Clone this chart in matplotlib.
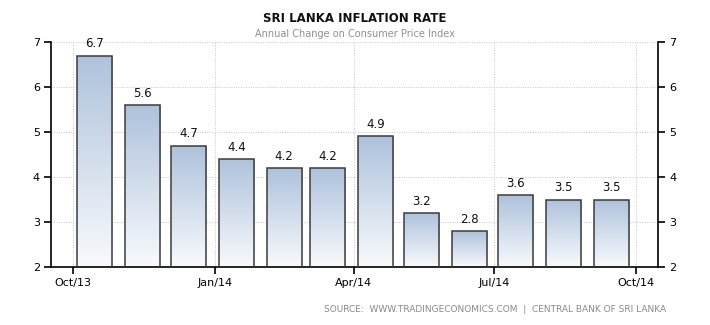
import numpy as np
import pandas as pd
import matplotlib
matplotlib.use("Agg")
import matplotlib.pyplot as plt
import matplotlib.dates as mdates
from matplotlib.colors import LinearSegmentedColormap

# Monthly inflation readings, Oct 2013 .. Sep 2014
months = ["2013-10", "2013-11", "2013-12", "2014-01", "2014-02", "2014-03",
          "2014-04", "2014-05", "2014-06", "2014-07", "2014-08", "2014-09"]
values = [6.7, 5.6, 4.7, 4.4, 4.2, 4.2, 4.9, 3.2, 2.8, 3.6, 3.5, 3.5]
tick_dates = ["2013-10-01", "2014-01-01", "2014-04-01", "2014-07-01", "2014-10-01"]
tick_labels = ["Oct/13", "Jan/14", "Apr/14", "Jul/14", "Oct/14"]

plt.rcParams["font.family"] = ["DejaVu Sans"]

fig = plt.figure(figsize=(7.1, 3.25), dpi=100)
ax = fig.add_axes([51 / 710, 1 - 267 / 325, (658 - 51) / 710, (267 - 42) / 325])

starts = pd.to_datetime(months)
left_edges = mdates.date2num(starts + pd.Timedelta(days=2.6))
width = 22.7

grad = LinearSegmentedColormap.from_list("bar", ["#f8fafd", "#aec2dc"])
gimg = np.linspace(0, 1, 256).reshape(-1, 1)

bars = ax.bar(left_edges, values, width=width, bottom=0, align="edge",
              facecolor="none", edgecolor="#3c3c3c", linewidth=1.1, zorder=3)
for b, v in zip(bars, values):
    x0 = b.get_x()
    im = ax.imshow(gimg, cmap=grad, aspect="auto", origin="lower",
                   extent=[x0, x0 + width, 2, v], zorder=2, interpolation="bilinear")
    im.set_clip_path(b)
    ax.text(x0 + width / 2, v + 0.12, f"{v:.1f}", ha="center", va="bottom",
            fontsize=8.5, color="#111111", zorder=4)

x_min = mdates.date2num(pd.Timestamp("2013-09-17"))
x_max = mdates.date2num(pd.Timestamp("2014-10-15"))
ax.set_xlim(x_min, x_max)
ax.set_ylim(2, 7)

ticks = mdates.date2num(pd.to_datetime(tick_dates))
ax.set_xticks(ticks)
ax.set_xticklabels(tick_labels)
ax.set_yticks(range(2, 8))

ax.grid(True, color="#c8c8c8", linestyle=(0, (1, 1.5)), linewidth=0.7, zorder=0)
ax.set_axisbelow(True)

for side in ["left", "right", "bottom"]:
    ax.spines[side].set_color("black")
    ax.spines[side].set_linewidth(1.2)
ax.spines["top"].set_visible(False)

ax.tick_params(axis="both", labelsize=8, colors="black", length=5, width=1.2)
ax.tick_params(axis="y", right=True, labelright=True, pad=3)
ax.tick_params(axis="x", pad=3)

fig.text(354.5 / 710, 1 - 18 / 325, "SRI LANKA INFLATION RATE", ha="center",
         va="center", fontsize=8.5, fontweight="bold", color="#111111")
fig.text(354.5 / 710, 1 - 34 / 325, "Annual Change on Consumer Price Index",
         ha="center", va="center", fontsize=7, color="#909090")
fig.text(666 / 710, 1 - 310 / 325,
         "SOURCE:  WWW.TRADINGECONOMICS.COM  |  CENTRAL BANK OF SRI LANKA",
         ha="right", va="center", fontsize=6.5, color="#8a8a8a")

fig.savefig("out.png", dpi=100)
